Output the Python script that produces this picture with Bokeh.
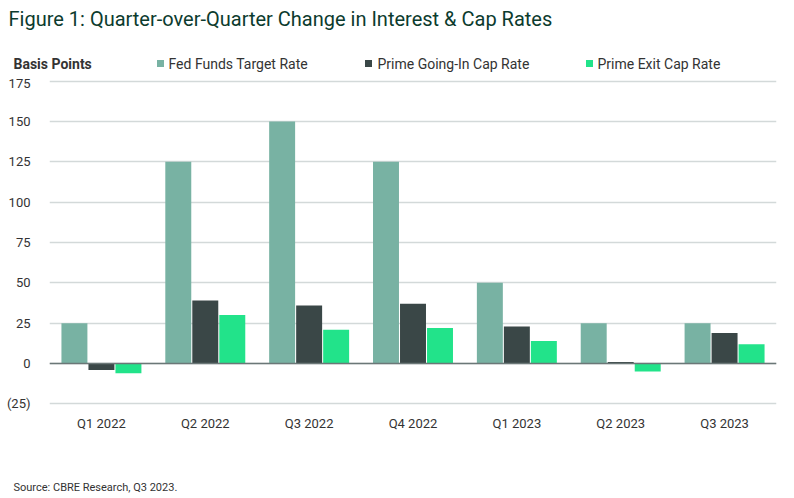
from bokeh.plotting import figure
from bokeh.layouts import column
from bokeh.models import Range1d, FactorRange, FixedTicker, Span, ColumnDataSource
from bokeh.core.properties import value
from bokeh.transform import dodge
from bokeh.embed import file_html
from bokeh.resources import INLINE

quarters = ["Q1 2022", "Q2 2022", "Q3 2022", "Q4 2022", "Q1 2023", "Q2 2023", "Q3 2023"]
fed_funds = [25, 125, 150, 125, 50, 25, 25]
going_in = [-4, 39, 36, 37, 23, 1, 19]
exit_cap = [-6, 30, 21, 22, 14, -5, 12]
series_names = ["Fed Funds Target Rate", "Prime Going-In Cap Rate", "Prime Exit Cap Rate"]
y_ticks = [-25, 0, 25, 50, 75, 100, 125, 150, 175]
title_text = "Figure 1: Quarter-over-Quarter Change in Interest & Cap Rates"
y_title = "Basis Points"
source_text = "Source: CBRE Research, Q3 2023."

colors = ["#78B2A3", "#3A4747", "#22E38A"]
FONT = "Roboto"
TEXT = "#333333"
W = 794
TOP_H, MAIN_H, BOT_H = 75, 370, 53


def blank(h):
    f = figure(width=W, height=h, x_range=Range1d(0, W), y_range=Range1d(h, 0),
               output_backend="svg", toolbar_location=None,
               min_border=0, min_border_left=0, min_border_right=0,
               min_border_top=0, min_border_bottom=0)
    f.axis.visible = False
    f.grid.visible = False
    f.outline_line_color = None
    f.background_fill_color = "white"
    f.border_fill_color = "white"
    f.frame_align = False
    return f


# ---- header: title + legend row
top = blank(TOP_H)
top.text(x=[8], y=[18], text=[title_text], text_font=value(FONT), text_font_size="20px",
         text_color="#0C3B2E", text_baseline="middle")
top.text(x=[13], y=[63], text=[y_title], text_font=value(FONT), text_font_size="14px",
         text_font_style="bold", text_color=TEXT, text_baseline="middle")
top.scatter(x=[160, 368, 589], y=[63, 63, 63], marker="square", size=7,
            fill_color=colors, line_color=None)
top.text(x=[168, 377, 597], y=[63, 63, 63], text=series_names, text_font=value(FONT),
         text_font_size="14px", text_color=TEXT, text_baseline="middle")

# ---- main chart
src = ColumnDataSource(dict(q=quarters, fed=fed_funds, gi=going_in, ex=exit_cap))
p = figure(width=W, height=MAIN_H, x_range=FactorRange(factors=quarters), y_range=Range1d(-26, 176),
           output_backend="svg", toolbar_location=None,
           min_border_left=49, min_border_right=18, min_border_top=4, min_border_bottom=40)
p.outline_line_color = None
p.background_fill_color = "white"
p.border_fill_color = "white"
p.frame_align = False

bw = 0.26
for col, off, c in zip(["fed", "gi", "ex"], [-bw, 0, bw], colors):
    p.vbar(x=dodge("q", off, range=p.x_range), top=col, bottom=0, width=bw - 0.01,
           source=src, fill_color=c, line_color=None)

p.xgrid.grid_line_color = None
p.ygrid.ticker = FixedTicker(ticks=y_ticks)
p.ygrid.grid_line_color = "#d3d9d9"
p.ygrid.grid_line_width = 1.4

p.yaxis.ticker = FixedTicker(ticks=y_ticks)
p.yaxis.major_label_overrides = {-25: "(25)"}
p.yaxis.axis_line_color = None
p.yaxis.major_tick_line_color = None
p.yaxis.minor_tick_line_color = None
p.yaxis.major_label_standoff = 13
p.yaxis.major_label_text_font = FONT
p.yaxis.major_label_text_font_size = "13px"
p.yaxis.major_label_text_color = TEXT

p.xaxis.axis_line_color = None
p.xaxis.major_tick_line_color = None
p.xaxis.major_tick_out = 0
p.xaxis.major_tick_in = 0
p.xaxis.major_label_standoff = 10
p.xaxis.major_label_text_font = FONT
p.xaxis.major_label_text_font_size = "13px"
p.xaxis.major_label_text_color = TEXT

p.add_layout(Span(location=0, dimension="width", line_color="#6b7777", line_width=1.5))

# ---- footer: source
bot = blank(BOT_H)
bot.text(x=[13], y=[42], text=[source_text], text_font=value(FONT), text_font_size="11px",
         text_color=TEXT, text_baseline="middle")

layout = column(top, p, bot, spacing=0)
open("out.html", "w").write(file_html(layout, INLINE))
